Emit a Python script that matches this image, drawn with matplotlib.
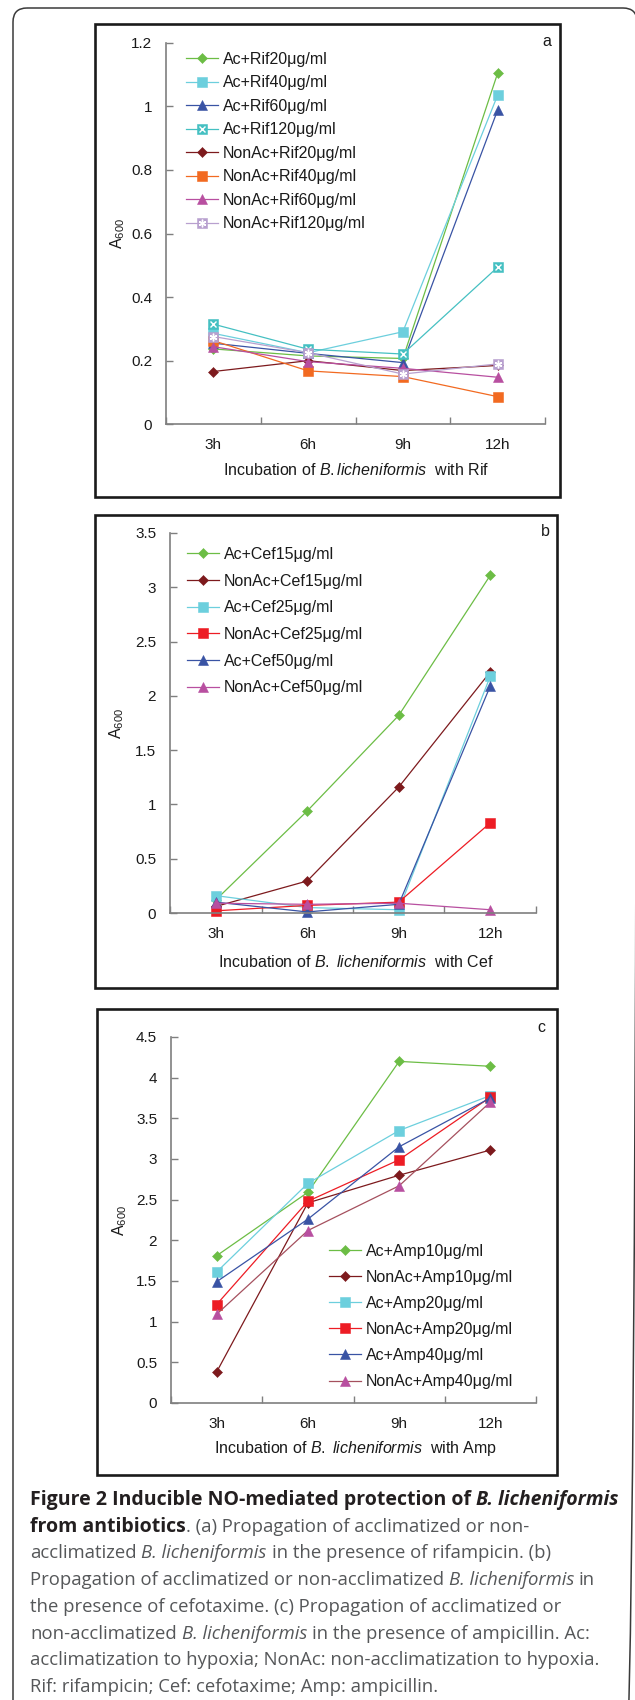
import matplotlib
matplotlib.use('Agg')
import matplotlib.pyplot as plt
import numpy as np
from matplotlib.patches import Rectangle, FancyBboxPatch

W, H = 635, 1700

times = ['3h', '6h', '9h', '12h']

# panel a - rifampicin
rif_labels = ['Ac+Rif20μg/ml', 'Ac+Rif40μg/ml', 'Ac+Rif60μg/ml', 'Ac+Rif120μg/ml',
              'NonAc+Rif20μg/ml', 'NonAc+Rif40μg/ml', 'NonAc+Rif60μg/ml', 'NonAc+Rif120μg/ml']
rif_values = [
    [0.237, 0.215, 0.207, 1.104],
    [0.286, 0.225, 0.291, 1.035],
    [0.255, 0.223, 0.194, 0.988],
    [0.315, 0.236, 0.221, 0.494],
    [0.166, 0.200, 0.169, 0.185],
    [0.263, 0.168, 0.150, 0.087],
    [0.244, 0.197, 0.176, 0.148],
    [0.276, 0.225, 0.158, 0.190],
]

# panel b - cefotaxime
cef_labels = ['Ac+Cef15μg/ml', 'NonAc+Cef15μg/ml', 'Ac+Cef25μg/ml',
              'NonAc+Cef25μg/ml', 'Ac+Cef50μg/ml', 'NonAc+Cef50μg/ml']
cef_values = [
    [0.12, 0.94, 1.82, 3.11],
    [0.06, 0.295, 1.16, 2.22],
    [0.16, 0.05, 0.03, 2.18],
    [0.02, 0.07, 0.10, 0.83],
    [0.10, 0.01, 0.08, 2.09],
    [0.09, 0.08, 0.09, 0.03],
]

# panel c - ampicillin
amp_labels = ['Ac+Amp10μg/ml', 'NonAc+Amp10μg/ml', 'Ac+Amp20μg/ml',
              'NonAc+Amp20μg/ml', 'Ac+Amp40μg/ml', 'NonAc+Amp40μg/ml']
amp_values = [
    [1.81, 2.59, 4.20, 4.14],
    [0.38, 2.46, 2.80, 3.11],
    [1.61, 2.70, 3.35, 3.78],
    [1.21, 2.48, 2.99, 3.76],
    [1.49, 2.26, 3.15, 3.75],
    [1.09, 2.12, 2.67, 3.70],
]

GREEN = '#6cbd45'
CYAN = '#6ccfdd'
BLUE = '#3953a4'
TEAL = '#45c0c2'
DRED = '#7d1a1d'
ORANGE = '#f26a21'
PINK = '#b84fa0'
LAV = '#b8a0cf'
RED = '#ed1c24'
ROSE = '#a5505e'
GRAY = '#7f7f7f'
INK = '#1a1a1a'

# (marker colour, line colour, marker, size, overlay)
rif_style = [(GREEN, GREEN, 'D', 5, None), (CYAN, CYAN, 's', 6.5, None),
             (BLUE, BLUE, '^', 7, None), (TEAL, TEAL, 's', 6.5, 'x'),
             (DRED, DRED, 'D', 5, None), (ORANGE, ORANGE, 's', 6.5, None),
             (PINK, PINK, '^', 7, None), (LAV, LAV, 's', 6.5, '*')]
cef_style = [(GREEN, GREEN, 'D', 5, None), (DRED, DRED, 'D', 5, None),
             (CYAN, CYAN, 's', 6.5, None), (RED, RED, 's', 6.5, None),
             (BLUE, BLUE, '^', 7, None), (PINK, PINK, '^', 7, None)]
amp_style = [(GREEN, GREEN, 'D', 5, None), (DRED, DRED, 'D', 5, None),
             (CYAN, CYAN, 's', 6.5, None), (RED, RED, 's', 6.5, None),
             (BLUE, BLUE, '^', 7, None), (PINK, ROSE, '^', 7, None)]

plt.rcParams['font.family'] = ['Liberation Sans', 'DejaVu Sans']
plt.rcParams['mathtext.fontset'] = 'custom'
plt.rcParams['mathtext.rm'] = 'Liberation Sans'
plt.rcParams['mathtext.it'] = 'Liberation Sans:italic'
plt.rcParams['mathtext.bf'] = 'Liberation Sans:bold'
plt.rcParams['mathtext.default'] = 'regular'

fig = plt.figure(figsize=(W / 100, H / 100), dpi=100)


def fx(x):
    return x / W


def fy(y):
    return 1 - y / H


# background axes in pixel units (y down) for the frames
bg = fig.add_axes([0, 0, 1, 1], zorder=-1)
bg.set_xlim(0, W)
bg.set_ylim(H, 0)
bg.axis('off')
# outer rounded frame, right side and bottom run off the page
bg.add_patch(FancyBboxPatch((13, 8), 624, 1800, boxstyle='round,pad=0,rounding_size=14',
                            fill=False, ec='#3a3a3a', lw=1.1, clip_on=False))
for (x0, y0, x1, y1) in [(95, 24, 560, 497), (95, 515, 557, 988), (97, 1009, 557, 1475)]:
    bg.add_patch(Rectangle((x0, y0), x1 - x0, y1 - y0, fill=False, ec=INK, lw=1.9))


def make_axes(left, right, top, bottom, ymax, ystep):
    ax = fig.add_axes([fx(left), fy(bottom), fx(right) - fx(left), fy(top) - fy(bottom)])
    ax.patch.set_visible(False)
    ax.set_xlim(0.5, 4.5)
    ax.set_ylim(0, ymax)
    ax.set_xticks([0.5, 1.5, 2.5, 3.5, 4.5])
    ax.set_xticklabels([])
    ax.set_xticks([1, 2, 3, 4], minor=True)
    ax.set_xticklabels(times, minor=True)
    ax.tick_params(axis='x', which='major', direction='in', length=5, width=1, color=GRAY)
    ax.tick_params(axis='x', which='minor', length=0, pad=10, labelsize=11, labelcolor=INK)
    ax.set_yticks(np.arange(0, ymax + 1e-9, ystep))
    ax.yaxis.set_major_formatter(plt.FuncFormatter(lambda v, p: f'{v:g}'))
    ax.tick_params(axis='y', direction='in', length=5, width=1, color=GRAY, pad=10,
                   labelsize=11, labelcolor=INK)
    for s in ['top', 'right']:
        ax.spines[s].set_visible(False)
    for s in ['left', 'bottom']:
        ax.spines[s].set_color(GRAY)
        ax.spines[s].set_linewidth(1.2)
    return ax


def draw_series(ax, values, labels, styles):
    xs = np.arange(1, 5)
    handles = []
    for vals, lab, (mc, lc, mk, ms, ov) in zip(values, labels, styles):
        ln, = ax.plot(xs, vals, color=lc, lw=0.9, marker=mk, ms=ms, mfc=mc, mec=mc,
                      mew=0.4, clip_on=False)
        if ov == 'x':
            o, = ax.plot(xs, vals, ls='none', marker='x', ms=4.2, mec='white', mew=1.0,
                         clip_on=False)
            handles.append((ln, o))
        elif ov == '*':
            o, = ax.plot(xs, vals, ls='none', marker=(6, 2, 0), ms=5.5, mec='white', mew=1.0,
                         clip_on=False)
            handles.append((ln, o))
        else:
            handles.append(ln)
    return handles


def add_legend(ax, handles, labels, x, y, spacing):
    ax.legend(handles, labels, loc='upper left', bbox_to_anchor=(fx(x), fy(y)),
              bbox_transform=fig.transFigure, frameon=False, borderpad=0, borderaxespad=0,
              handlelength=2.0, handletextpad=0.3, labelspacing=spacing, fontsize=11.5,
              labelcolor=INK)


def label_text(x, y, s, **kw):
    fig.text(fx(x), fy(y), s, ha='center', va='center', fontsize=11.5, color=INK, **kw)


# panel a
ax_a = make_axes(166, 545, 42.7, 424.3, 1.2, 0.2)
h = draw_series(ax_a, rif_values, rif_labels, rif_style)
add_legend(ax_a, h, rif_labels, 186, 52, 0.53)
label_text(356, 470, 'Incubation of $\\it{B.licheniformis}$  with Rif')
label_text(118, 233, 'A$_{600}$', rotation=90)
label_text(547, 42, 'a')

# panel b
ax_b = make_axes(170, 536, 533, 913, 3.5, 0.5)
h = draw_series(ax_b, cef_values, cef_labels, cef_style)
add_legend(ax_b, h, cef_labels, 187, 547, 0.73)
label_text(356, 962, 'Incubation of $\\it{B.\\ licheniformis}$  with Cef')
label_text(117, 723, 'A$_{600}$', rotation=90)
label_text(545, 532, 'b')

# panel c
ax_c = make_axes(171, 536, 1037, 1402.9, 4.5, 0.5)
h = draw_series(ax_c, amp_values, amp_labels, amp_style)
add_legend(ax_c, h, amp_labels, 329, 1244, 0.69)
label_text(356, 1449, 'Incubation of $\\it{B.\\ licheniformis}$  with Amp')
label_text(120, 1220, 'A$_{600}$', rotation=90)
label_text(541, 1027, 'c')

# caption
DARK = '#231f20'
MID = '#555759'
B, R, I, BI = 'bold', 'regular', 'italic', 'bolditalic'
caption = [
    [('Figure 2 Inducible NO-mediated protection of ', B), ('B. licheniformis', BI)],
    [('from antibiotics', B), ('. (a) Propagation of acclimatized or non-', R)],
    [('acclimatized ', R), ('B. licheniformis', I), (' in the presence of rifampicin. (b)', R)],
    [('Propagation of acclimatized or non-acclimatized ', R), ('B. licheniformis', I), (' in', R)],
    [('the presence of cefotaxime. (c) Propagation of acclimatized or', R)],
    [('non-acclimatized ', R), ('B. licheniformis', I), (' in the presence of ampicillin. Ac:', R)],
    [('acclimatization to hypoxia; NonAc: non-acclimatization to hypoxia.', R)],
    [('Rif: rifampicin; Cef: cefotaxime; Amp: ampicillin.', R)],
]

renderer = fig.canvas.get_renderer()
sizes = {}


def style_kw(kind, size=None):
    if size is None:
        size = sizes['bold'] if kind in (B, BI) else sizes['reg']
    kw = dict(fontsize=size, family=['Open Sans', 'DejaVu Sans'])
    kw['fontweight'] = 'bold' if kind in (B, BI) else 'normal'
    kw['fontstyle'] = 'italic' if kind in (I, BI) else 'normal'
    kw['color'] = DARK if kind in (B, BI) else MID
    return kw


def text_w(s, kw):
    t = fig.text(0, 0, s, **kw)
    w = t.get_window_extent(renderer).width
    t.remove()
    return w


def advance(s, kw):
    return text_w('|' + s + '|', kw) - text_w('||', kw)


def line_width(runs, size):
    return sum(advance(s, style_kw(k, size)) for s, k in runs)


sizes['reg'] = 10 * 567 / line_width(caption[3], 10)
sizes['bold'] = 10 * 590 / line_width(caption[0], 10)

y = 1500
for runs in caption:
    x = 30
    for s, k in runs:
        kw = style_kw(k)
        lead = len(s) - len(s.lstrip(' '))
        if lead:
            x += advance(' ' * lead, kw)
        fig.text(fx(x), fy(y), s.strip(' '), ha='left', va='center', **kw)
        x += advance(s.lstrip(' '), kw)
    y += 26.7

fig.savefig('out.png', dpi=100)
